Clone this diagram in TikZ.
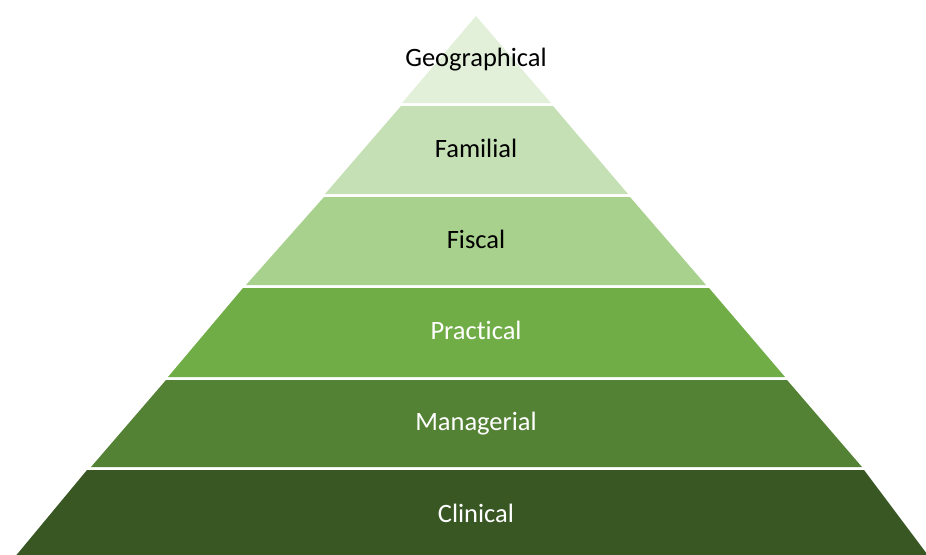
\documentclass[tikz,border=0pt]{standalone}
\usepackage{fontspec}
\setmainfont{Carlito}[Ligatures={NoCommon,NoDiscretionary,NoRare}]
\definecolor{geo}{HTML}{E2F0D9}
\definecolor{fam}{HTML}{C5E0B4}
\definecolor{fis}{HTML}{A9D18E}
\definecolor{pra}{HTML}{70AD47}
\definecolor{man}{HTML}{548235}
\definecolor{cli}{HTML}{385723}
\begin{document}
\begin{tikzpicture}[x=1pt,y=-1pt,
  lbl/.style={anchor=base,inner sep=0pt,font=\fontsize{26.5}{30}\selectfont}]
\useasboundingbox (0,0) rectangle (926,554);
\clip (0,0) rectangle (926,554);
% layers
\fill[geo] (476,16) -- (551,103) -- (402,103) -- cycle;
\fill[fam] (401,106) -- (553,106) -- (628,194) -- (325,194) -- cycle;
\fill[fis] (324,197) -- (630,197) -- (706,285) -- (246,285) -- cycle;
\fill[pra] (243,288) -- (709,288) -- (785,377) -- (168,377) -- cycle;
\fill[man] (166,380) -- (787,380) -- (862,467) -- (91,467) -- cycle;
\fill[cli] (87,470) -- (864,470) -- (930,558) -- (14,558) -- cycle;
% labels
\node[lbl,text=black] (geo) at (476,66) {Geographical};
\node[lbl,text=black] (fam) at (476,157) {Familial};
\node[lbl,text=black] (fis) at (476,248) {Fiscal};
\node[lbl,text=white] (pra) at (476,339) {Practical};
\node[lbl,text=white] (man) at (476,430) {Managerial};
\node[lbl,text=white] (cli) at (476,522) {Clinical};
\end{tikzpicture}
\end{document}
